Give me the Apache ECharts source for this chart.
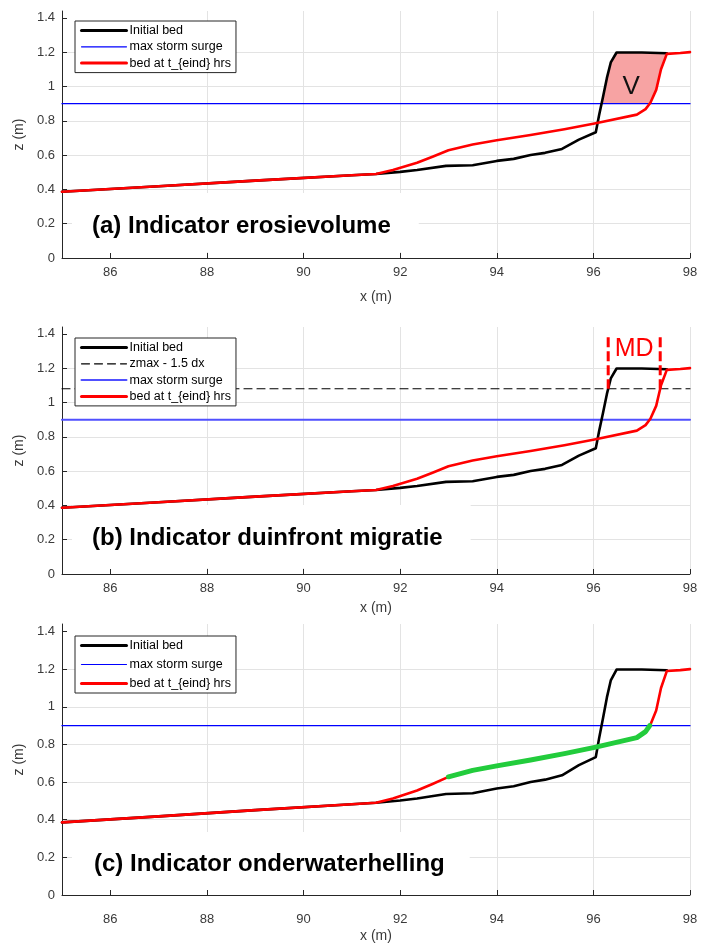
<!DOCTYPE html>
<html>
<head>
<meta charset="utf-8">
<script src="https://cdn.jsdelivr.net/npm/echarts/dist/echarts.min.js"></script>
<style>
  html, body { margin: 0; padding: 0; background: #fff; }
  #chart { width: 702px; height: 944px; }
</style>
</head>
<body>
<div id="chart"></div>
<script>
// Cross-shore profile before the storm (x, z in metres)
const initialBedX = [85, 87, 89, 91, 91.5, 92.0, 92.35, 92.95, 93.5, 94.0, 94.35, 94.7, 95.0, 95.35, 95.7, 96.05, 96.12, 96.2, 96.28, 96.36, 96.48, 97.0, 97.52];
const initialBedZ = [0.386, 0.418, 0.451, 0.482, 0.49, 0.502, 0.513, 0.537, 0.541, 0.566, 0.578, 0.6, 0.613, 0.636, 0.69, 0.733, 0.835, 0.94, 1.05, 1.14, 1.198, 1.198, 1.194];

// Profile at the end of the storm
const finalBedX = [85, 87, 89, 91, 91.5, 91.85, 92.35, 92.67, 93.0, 93.5, 94.0, 94.7, 95.4, 96.05, 96.9, 97.08, 97.18, 97.3, 97.4, 97.52, 97.8, 98.0];
const finalBedZ = [0.386, 0.418, 0.451, 0.482, 0.49, 0.513, 0.555, 0.59, 0.628, 0.662, 0.686, 0.717, 0.751, 0.786, 0.836, 0.868, 0.905, 0.98, 1.1, 1.19, 1.195, 1.2];

const stormSurgeLevel = 0.9;      // max storm surge (m)
const frontLevel = 1.08;          // zmax - 1.5 dx (m)
const frontMarkTop = 1.38;        // upper end of the MD markers
const slopeStartX = 93.0;         // start of the underwater slope segment

const xTicks = [86, 88, 90, 92, 94, 96, 98];
const yTicks = [0, 0.2, 0.4, 0.6, 0.8, 1, 1.2, 1.4];
const xRange = [85, 98];
const yRange = [0, 1.44];

const panelTitles = [
  '(a) Indicator erosievolume',
  '(b) Indicator duinfront migratie',
  '(c) Indicator onderwaterhelling'
];
const NAME_INIT = 'Initial bed';
const NAME_SURGE = 'max storm surge';
const NAME_FINAL = 'bed at t_{eind} hrs';
const NAME_LEVEL = 'zmax - 1.5 dx';

const FONT = '"Liberation Sans", Arial, Helvetica, sans-serif';

function pairs(xs, zs) { return xs.map((x, i) => [x, zs[i]]); }

// first crossing of a profile with a horizontal level
function crossing(xs, zs, level) {
  for (let i = 0; i < xs.length - 1; i++) {
    if ((zs[i] - level) * (zs[i + 1] - level) <= 0 && zs[i] !== zs[i + 1]) {
      const t = (level - zs[i]) / (zs[i + 1] - zs[i]);
      return { x: xs[i] + t * (xs[i + 1] - xs[i]), i: i };
    }
  }
  return null;
}

const initPts = pairs(initialBedX, initialBedZ);
const finalPts = pairs(finalBedX, finalBedZ);

// eroded volume above the surge level, between the two profiles
const initCross = crossing(initialBedX, initialBedZ, stormSurgeLevel);
const finalCross = crossing(finalBedX, finalBedZ, stormSurgeLevel);
const erosionPoly = [[initCross.x, stormSurgeLevel]];
for (let j = initCross.i + 1; j < initialBedX.length; j++) erosionPoly.push([initialBedX[j], initialBedZ[j]]);
const initEndX = initialBedX[initialBedX.length - 1];
for (let j = finalBedX.length - 1; j > finalCross.i; j--) {
  if (finalBedX[j] <= initEndX) erosionPoly.push([finalBedX[j], finalBedZ[j]]);
}
erosionPoly.push([finalCross.x, stormSurgeLevel]);

// dune front positions at zmax - 1.5 dx
const frontInitX = crossing(initialBedX, initialBedZ, frontLevel).x;
const frontFinalX = crossing(finalBedX, finalBedZ, frontLevel).x;

// underwater slope: final profile from slopeStartX up to the surge level
const slopePts = [];
for (let j = 0; j <= finalCross.i; j++) {
  if (finalBedX[j] >= slopeStartX) slopePts.push([finalBedX[j], finalBedZ[j]]);
}
slopePts.push([finalCross.x, stormSurgeLevel]);

const surgePts = [[xRange[0], stormSurgeLevel], [xRange[1], stormSurgeLevel]];
const levelPts = [[xRange[0], frontLevel], [xRange[1], frontLevel]];

// panel layout (pixels)
const grids = [
  { top: 11, height: 247 },
  { top: 327, height: 247 },
  { top: 624, height: 271 }
];
const xLabelMargin = [8, 8, 18];
const xNameGap = [32, 27, 34];

const AXIS_COLOR = '#262626';
const LABEL_COLOR = '#3a3a3a';
const GRID_COLOR = '#e3e3e3';

function legendBox(top, gap, items) {
  return {
    left: 75, top: top, orient: 'vertical', itemWidth: 45, itemHeight: 12, itemGap: gap,
    padding: [3, 5, 3, 5], selectedMode: false,
    backgroundColor: '#fff', borderColor: AXIS_COLOR, borderWidth: 1, borderRadius: 0,
    itemStyle: { opacity: 0 },
    textStyle: { fontFamily: FONT, fontSize: 12.5, color: '#000', lineHeight: 12, padding: [0, 0, 0, -2] },
    data: items
  };
}

const option = {
  animation: false,
  backgroundColor: '#fff',
  grid: grids.map(g => ({ left: 62, right: 12, top: g.top, height: g.height, containLabel: false })),
  xAxis: grids.map((g, k) => ({
    type: 'value', gridIndex: k, min: xRange[0], max: xRange[1], splitNumber: 6,
    name: 'x (m)', nameLocation: 'middle', nameGap: xNameGap[k],
    nameTextStyle: { fontFamily: FONT, fontSize: 14, color: LABEL_COLOR },
    axisLine: { show: true, onZero: false, lineStyle: { color: AXIS_COLOR, width: 1 } },
    axisTick: { show: true, inside: true, length: 5, customValues: xTicks, lineStyle: { color: AXIS_COLOR } },
    axisLabel: { customValues: xTicks, margin: xLabelMargin[k], fontFamily: FONT, fontSize: 13, color: LABEL_COLOR },
    splitLine: { show: true, showMinLine: false, showMaxLine: true, lineStyle: { color: GRID_COLOR, width: 1 } }
  })),
  yAxis: grids.map((g, k) => ({
    type: 'value', gridIndex: k, min: yRange[0], max: yRange[1],
    name: 'z (m)', nameLocation: 'middle', nameGap: 34, nameRotate: 90,
    nameTextStyle: { fontFamily: FONT, fontSize: 14, color: LABEL_COLOR },
    axisLine: { show: true, onZero: false, lineStyle: { color: AXIS_COLOR, width: 1 } },
    axisTick: { show: true, inside: true, length: 5, customValues: yTicks, lineStyle: { color: AXIS_COLOR } },
    axisLabel: { customValues: yTicks, margin: 7, fontFamily: FONT, fontSize: 13, color: LABEL_COLOR },
    splitLine: { show: true, showMinLine: false, showMaxLine: false, lineStyle: { color: GRID_COLOR, width: 1 } }
  })),
  title: panelTitles.map((t, k) => ({
    text: t,
    left: 72,
    top: [193, 505, 832][k],
    padding: [[19, 28, 12, 20], [19, 28, 16, 20], [18, 25, 12, 22]][k],
    backgroundColor: '#fff',
    z: 1,
    textStyle: { fontFamily: FONT, fontSize: 24, fontWeight: 'bold', color: '#000', lineHeight: 28 }
  })),
  legend: [
    legendBox(21, 3.3, [
      { name: NAME_INIT, lineStyle: { color: '#000', width: 3, type: 'solid' } },
      { name: NAME_SURGE, lineStyle: { color: '#0000ff', width: 1.2, type: 'solid' } },
      { name: NAME_FINAL, lineStyle: { color: '#ff0000', width: 3, type: 'solid' } }
    ]),
    legendBox(338, 3.3, [
      { name: NAME_INIT, lineStyle: { color: '#000', width: 3, type: 'solid' } },
      { name: NAME_LEVEL, lineStyle: { color: '#000', width: 1.2, type: [8, 5] } },
      { name: NAME_SURGE, lineStyle: { color: '#5050ff', width: 2, type: 'solid' } },
      { name: NAME_FINAL, lineStyle: { color: '#ff0000', width: 3, type: 'solid' } }
    ]),
    legendBox(636, 6, [
      { name: NAME_INIT, lineStyle: { color: '#000', width: 3, type: 'solid' } },
      { name: NAME_SURGE, lineStyle: { color: '#0000ff', width: 1.2, type: 'solid' } },
      { name: NAME_FINAL, lineStyle: { color: '#ff0000', width: 3, type: 'solid' } }
    ])
  ],
  series: []
};

function lineSeries(name, k, data, color, width, z, type) {
  return {
    type: 'line', name: name, xAxisIndex: k, yAxisIndex: k, data: data,
    symbol: 'none', showSymbol: false, silent: true, z: z, clip: true,
    lineStyle: { color: color, width: width, type: type || 'solid', join: 'round', cap: 'round' },
    itemStyle: { color: color },
    emphasis: { disabled: true }
  };
}

// (a) erosion volume fill with its label
option.series.push({
  type: 'custom', name: 'V', xAxisIndex: 0, yAxisIndex: 0, z: 1, silent: true,
  data: [erosionPoly[0]],
  renderItem: function (params, api) {
    const pts = erosionPoly.map(p => api.coord(p));
    const c = api.coord([96.78, 1.0]);
    return {
      type: 'group',
      children: [
        { type: 'polygon', shape: { points: pts }, style: { fill: '#f7a3a3' } },
        { type: 'text', style: { text: 'V', x: c[0], y: c[1], fill: '#111', fontSize: 26, fontFamily: FONT, align: 'center', verticalAlign: 'middle' } }
      ]
    };
  }
});

for (let k = 0; k < 3; k++) {
  const surgeColor = k === 1 ? '#5050ff' : '#0000ff';
  const surgeWidth = k === 1 ? 2 : 1.4;
  option.series.push(lineSeries(NAME_SURGE, k, surgePts, surgeColor, surgeWidth, 2));
  if (k === 1) option.series.push(lineSeries(NAME_LEVEL, k, levelPts, '#000', 1.2, 2, [8, 5]));
  option.series.push(lineSeries(NAME_INIT, k, initPts, '#000', 2.6, 3));
  option.series.push(lineSeries(NAME_FINAL, k, finalPts, '#ff0000', 2.6, 4));
}

// (c) underwater slope highlighted
option.series.push(lineSeries('onderwaterhelling', 2, slopePts, '#22cc3c', 5, 5));

// (b) dune front migration markers
option.series.push({
  type: 'custom', name: 'MD', xAxisIndex: 1, yAxisIndex: 1, z: 6, silent: true,
  data: [[frontInitX, frontLevel]],
  renderItem: function (params, api) {
    const a0 = api.coord([frontInitX, frontLevel]);
    const a1 = api.coord([frontInitX, frontMarkTop]);
    const b0 = api.coord([frontFinalX, frontLevel]);
    const b1 = api.coord([frontFinalX, frontMarkTop]);
    const t = api.coord([(frontInitX + frontFinalX) / 2, 1.313]);
    const dash = { stroke: '#ff0000', lineWidth: 3, lineDash: [10, 4] };
    return {
      type: 'group',
      children: [
        { type: 'line', shape: { x1: a1[0], y1: a1[1], x2: a0[0], y2: a0[1] }, style: dash },
        { type: 'line', shape: { x1: b1[0], y1: b1[1], x2: b0[0], y2: b0[1] }, style: dash },
        { type: 'text', style: { text: 'MD', x: t[0], y: t[1], fill: '#ff0000', fontSize: 25, fontFamily: FONT, align: 'center', verticalAlign: 'middle' } }
      ]
    };
  }
});

const chart = echarts.init(document.getElementById('chart'), null, { renderer: 'canvas' });
chart.setOption(option);
</script>
</body>
</html>
